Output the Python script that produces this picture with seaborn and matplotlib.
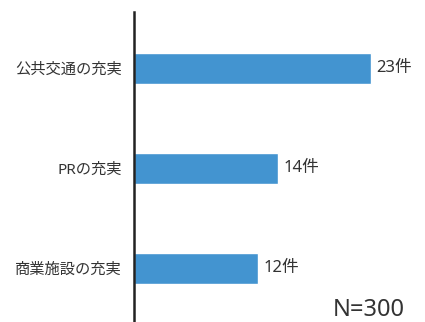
import matplotlib
matplotlib.use('Agg')
import matplotlib.pyplot as plt
import seaborn as sns
import pandas as pd

categories = ['公共交通の充実', 'PRの充実', '商業施設の充実']
counts = [23, 14, 12]
value_labels = ['23件', '14件', '12件']
note = 'N=300'

sns.set_style('white')
plt.rcParams['font.family'] = ['Noto Sans', 'Noto Sans CJK JP', 'DejaVu Sans']

df = pd.DataFrame({'category': categories, 'count': counts})

fig = plt.figure(figsize=(4.25, 3.22), dpi=100)
ax = fig.add_axes([134 / 425, 0, 286 / 425, 1 - 12 / 322])

sns.barplot(data=df, x='count', y='category', color='#4394D0', saturation=1,
            width=0.31, ax=ax)

ax.set_xlim(0, 286 / 10.3)
ax.set_ylim(2.54, -0.56)

for i, lab in enumerate(value_labels):
    ax.text(counts[i] + 0.55, i, lab, va='center', ha='left', fontsize=12, color='#333333')

ax.set_xlabel('')
ax.set_ylabel('')
ax.set_xticks([])
ax.tick_params(axis='y', length=0, labelsize=11, labelcolor='#333333', pad=8.5)
for s in ['top', 'right', 'bottom']:
    ax.spines[s].set_visible(False)
ax.spines['left'].set_color('#222222')
ax.spines['left'].set_linewidth(1.8)

fig.text(405 / 425, 1 - 310 / 322, note, ha='right', va='center', fontsize=17, color='#333333')

fig.savefig('out.png', dpi=100)
